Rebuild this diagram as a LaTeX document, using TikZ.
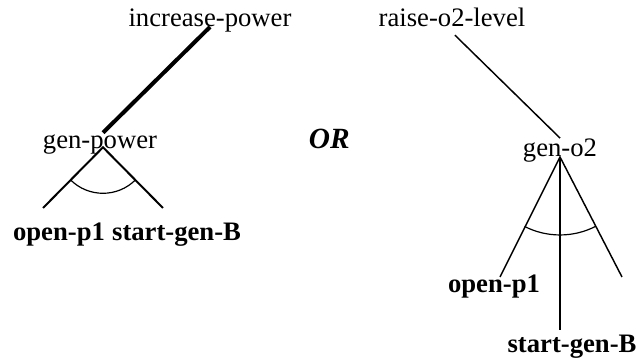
\documentclass[tikz,border=0pt]{standalone}
\usepackage{fontspec}
\setmainfont{Liberation Serif}
\usetikzlibrary{positioning}
\tikzstyle{goal} = [inner sep=0pt, 
text height=14pt, 
text depth=4pt, 
font=\fontsize{20}{24}\selectfont]
\tikzstyle{action} = [goal, 
font=\fontsize{20}{24}\selectfont\bfseries]
\tikzstyle{choice} = [goal, 
font=\fontsize{22}{26}\selectfont\bfseries\itshape]
\tikzstyle{decomp} = [line width=3pt]
\tikzstyle{branch} = [line width=1.5pt]
\tikzstyle{thinbranch} = [line width=1.1pt]
\tikzstyle{andarc} = [line width=0.9pt]

\begin{document}
\begin{tikzpicture}[x=0.75pt, y=-0.75pt, node distance=91pt]
\useasboundingbox (0,0) rectangle (644,359);

\node (incr) [goal] at (210,20.3) {increase-power};

\node (raise) [goal, right of=incr, xshift=90.5pt] {raise-o2-level};

\node (genp) [goal, below of=incr, xshift=-82.5pt] {gen-power};

\node (or) [choice, right of=genp, xshift=81pt] {OR};

\node (geno2) [goal, below of=raise, xshift=81pt, yshift=-6.5pt] {gen-o2};

\node (leafa) [action, below of=genp, xshift=-30.75pt, yshift=22pt] {open-p1};
\node (leafb) [action, right=5pt of leafa] {start-gen-B};

\node (openp) [action, below of=geno2, xshift=-49.5pt, yshift=-10.3pt] {open-p1};
\node (startb) [action, below of=openp, xshift=58.5pt, yshift=46pt] {start-gen-B};

\coordinate (gp-fork) at ([xshift=2.25pt,yshift=0.75pt]genp.base);
\coordinate (gp-l) at (43,208);
\coordinate (gp-r) at (163,208);
\coordinate (go-fork) at (geno2.base);
\coordinate (go-l) at (500,277);
\coordinate (go-m) at (560,330);
\coordinate (go-r) at (622,277);

\draw [decomp] (incr.base) -- ([xshift=2.25pt,yshift=-2.5pt]genp.north);
\draw [branch] (gp-l) -- (gp-fork) -- (gp-r);
\draw [andarc] ([shift={(-135:34.5pt)}]gp-fork) arc[start angle=-135, end angle=-45, radius=34.5pt];

\draw [thinbranch] ([xshift=2.25pt,yshift=-2pt]raise.south) -- (geno2.north);
\draw [thinbranch] (go-l) -- (go-fork) -- (go-r);
\draw [thinbranch] (go-fork) -- (go-m);
\draw [andarc] ([shift={(-117:58.5pt)}]go-fork) arc[start angle=-117, end angle=-63, radius=58.5pt];

\end{tikzpicture}
\end{document}
